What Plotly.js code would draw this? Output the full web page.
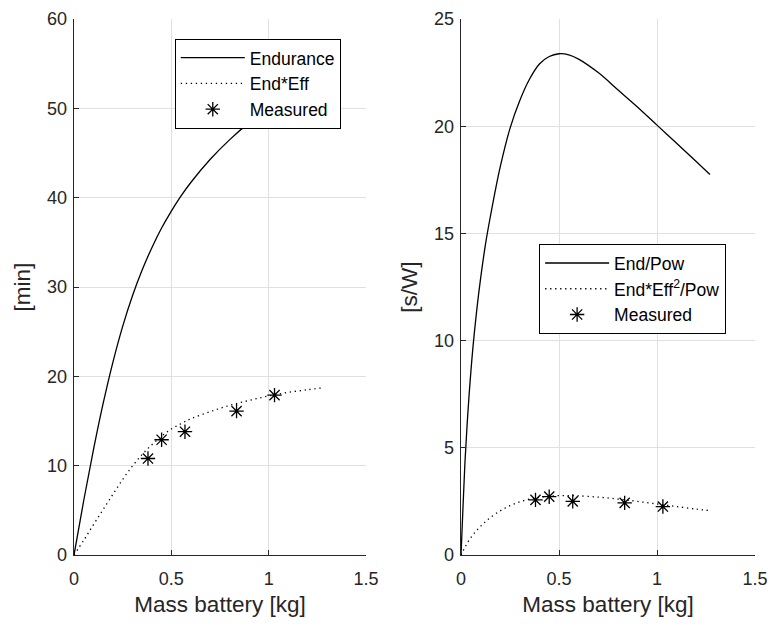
<!DOCTYPE html>
<html>
<head>
<meta charset="utf-8">
<script src="https://cdn.plot.ly/plotly-3.0.1.min.js"></script>
<style>html,body{margin:0;padding:0;background:#fff;}#chart{width:773px;height:628px;}</style>
</head>
<body>
<div id="chart"></div>
<script>
// ---- data ----
const massCurve = [0, 0.05, 0.1, 0.15, 0.2, 0.25, 0.3, 0.35, 0.4, 0.45, 0.5, 0.55, 0.6, 0.7, 0.8, 0.9, 1.0, 1.1, 1.2, 1.27];
const endurance = [0, 6.1, 11.8, 17.0, 21.6, 25.6, 29.0, 31.9, 34.4, 36.6, 38.5, 40.2, 41.7, 44.3, 46.5, 48.4, 50.0, 51.4, 52.6, 53.4];
const endEff = [0, 1.65, 3.4, 5.1, 6.8, 8.45, 9.95, 11.25, 12.35, 13.3, 14.1, 14.7, 15.25, 16.05, 16.75, 17.3, 17.8, 18.2, 18.5, 18.7];
const massCurveR = [0, 0.01, 0.02, 0.03, 0.04, 0.06, 0.08, 0.1, 0.125, 0.15, 0.2, 0.25, 0.3, 0.35, 0.4, 0.45, 0.5, 0.55, 0.6, 0.7, 0.8, 0.9, 1.0, 1.1, 1.2, 1.27];
const endPow = [0, 2.2, 4.3, 5.9, 7.3, 9.6, 11.4, 12.9, 14.5, 15.8, 18.1, 19.9, 21.2, 22.2, 22.9, 23.25, 23.38, 23.33, 23.13, 22.5, 21.7, 20.9, 20.05, 19.2, 18.35, 17.75];
const endEff2Pow = [0, 0.18, 0.36, 0.52, 0.67, 0.93, 1.15, 1.34, 1.56, 1.75, 2.06, 2.3, 2.48, 2.61, 2.69, 2.74, 2.77, 2.77, 2.76, 2.7, 2.61, 2.5, 2.38, 2.26, 2.14, 2.07];
const massMeasured = [0.38, 0.45, 0.57, 0.835, 1.03];
const enduranceMeasured = [10.8, 12.9, 13.8, 16.1, 17.9];
const ratioMeasured = [2.57, 2.72, 2.5, 2.43, 2.26];
const xTicks = [0, 0.5, 1, 1.5];

const ink = '#262626';
const fam = 'Liberation Sans, Arial, sans-serif';
const tickFont = {family: fam, size: 18, color: ink};
const titleFont = {family: fam, size: 22.5, color: ink};

const solid = {color: '#000', width: 1.3, shape: 'spline', smoothing: 1};
const dotted = {color: '#000', width: 1.3, dash: '1.3px,3.7px', shape: 'spline', smoothing: 1};
const star = {symbol: 'asterisk-open', size: 12, color: '#000', line: {color: '#000', width: 1.3}};

const traces = [
  {x: massCurve, y: endurance, type: 'scatter', mode: 'lines', name: 'Endurance',
   line: solid, xaxis: 'x', yaxis: 'y', legend: 'legend'},
  {x: massCurve, y: endEff, type: 'scatter', mode: 'lines', name: 'End*Eff',
   line: dotted, xaxis: 'x', yaxis: 'y', legend: 'legend'},
  {x: massMeasured, y: enduranceMeasured, type: 'scatter', mode: 'markers', name: 'Measured',
   marker: star, xaxis: 'x', yaxis: 'y', legend: 'legend'},
  {x: massCurveR, y: endPow, type: 'scatter', mode: 'lines', name: 'End/Pow',
   line: solid, xaxis: 'x2', yaxis: 'y2', legend: 'legend2'},
  {x: massCurveR, y: endEff2Pow, type: 'scatter', mode: 'lines', name: 'End*Eff<sup>2</sup>/Pow',
   line: dotted, xaxis: 'x2', yaxis: 'y2', legend: 'legend2'},
  {x: massMeasured, y: ratioMeasured, type: 'scatter', mode: 'markers', name: 'Measured',
   marker: star, xaxis: 'x2', yaxis: 'y2', legend: 'legend2'}
];

function xax(domain, anchor) {
  return {domain: domain, anchor: anchor, range: [0, 1.5], tickvals: xTicks, ticktext: xTicks.map(String),
    showline: true, linecolor: ink, linewidth: 1.3, mirror: false,
    ticks: 'inside', ticklen: 5, tickcolor: ink, showgrid: true, gridcolor: '#e0e0e0', zeroline: false,
    ticklabelstandoff: 7,
    tickfont: tickFont, title: {text: 'Mass battery [kg]', font: titleFont, standoff: 8}};
}
function yax(anchor, range, dtick, title) {
  return {domain: [0, 1], anchor: anchor, range: range, dtick: dtick, tick0: 0,
    showline: true, linecolor: ink, linewidth: 1.3, mirror: false,
    ticks: 'inside', ticklen: 5, tickcolor: ink, showgrid: true, gridcolor: '#e0e0e0', zeroline: false,
    ticklabelstandoff: 2,
    tickfont: tickFont, title: {text: title, font: titleFont, standoff: 10}};
}

const legendBase = {bgcolor: '#fff', bordercolor: '#000', borderwidth: 1, font: {family: fam, size: 17.5, color: '#000'},
  xanchor: 'left', yanchor: 'top', itemwidth: 64, tracegroupgap: 0};

const layout = {
  width: 773, height: 628,
  margin: {l: 74, r: 18, t: 19, b: 73},
  paper_bgcolor: '#fff', plot_bgcolor: '#fff',
  showlegend: true,
  xaxis: xax([0, 0.4288], 'y'),
  yaxis: yax('x', [0, 60], 10, '[min]'),
  xaxis2: xax([0.5683, 1], 'y2'),
  yaxis2: yax('x2', [0, 25], 5, '[s/W]'),
  legend: Object.assign({}, legendBase, {x: 0.148, y: 0.963}),
  legend2: Object.assign({}, legendBase, {x: 0.683, y: 0.580})
};

Plotly.newPlot('chart', traces, layout, {displayModeBar: false, staticPlot: true});
</script>
</body>
</html>
